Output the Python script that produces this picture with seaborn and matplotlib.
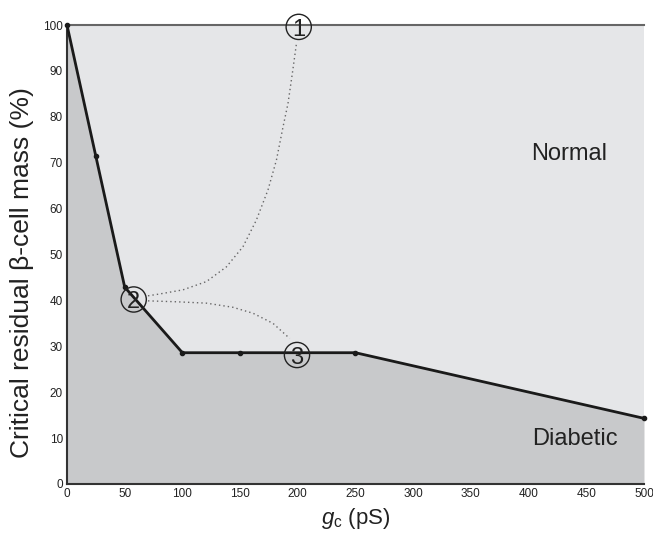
import matplotlib
matplotlib.use("Agg")
import matplotlib.pyplot as plt
import seaborn as sns
import numpy as np
import pandas as pd

# Data
gc_values = [0, 25, 50, 100, 150, 200, 250, 500]
critical_mass = [100, 71.4, 42.9, 28.6, 28.6, 28.6, 28.6, 14.3]
marker_gc = [0, 25, 50, 100, 150, 250, 500]
marker_mass = [100, 71.4, 42.9, 28.6, 28.6, 28.6, 14.3]

path1_gc = [70.2, 80.3, 100.5, 120.8, 138.1, 152.5, 164.1, 174.2, 181.5, 187.2, 191.5, 195.3, 198.8]
path1_mass = [41.0, 41.4, 42.3, 44.1, 47.3, 51.7, 57.5, 64.1, 70.6, 77.8, 82.9, 89.5, 95.9]
path2_gc = [70.2, 94.8, 120.8, 143.8, 161.2, 178.5, 193.0]
path2_mass = [39.9, 39.7, 39.4, 38.5, 37.2, 35.0, 31.7]

state_labels = ["1", "2", "3"]
state_gc = [200.8, 57.8, 199.3]
state_mass = [99.6, 40.2, 28.1]

x_ticks = [0, 50, 100, 150, 200, 250, 300, 350, 400, 450, 500]
y_ticks = [0, 10, 20, 30, 40, 50, 60, 70, 80, 90, 100]

sns.set_style("white")
plt.rcParams['font.family'] = ['Liberation Sans', 'DejaVu Sans']
plt.rcParams['mathtext.fontset'] = 'custom'
plt.rcParams['mathtext.it'] = 'Liberation Sans:italic'
plt.rcParams['mathtext.rm'] = 'Liberation Sans'

fig = plt.figure(figsize=(6.53, 5.33), dpi=100)
ax = fig.add_axes([0.1026, 0.092, 0.8836, 0.861])

ax.set_facecolor("#e5e6e8")
ax.fill_between(gc_values, 0, critical_mass, color="#c8c9cb", lw=0, zorder=1)

df = pd.DataFrame({"gc": gc_values, "mass": critical_mass})
sns.lineplot(data=df, x="gc", y="mass", ax=ax, color="#1a1a1a", lw=2.0, zorder=3)
ax.plot(marker_gc, marker_mass, 'o', color="#1a1a1a", ms=3, zorder=4, clip_on=False)

ax.plot(path1_gc, path1_mass, ls=(0, (1, 2.2)), color="#666666", lw=1.0, zorder=2)
ax.plot(path2_gc, path2_mass, ls=(0, (1, 2.2)), color="#666666", lw=1.0, zorder=2)

ax.scatter(state_gc, state_mass, s=330, facecolors='none', edgecolors='#222222',
           linewidths=1.0, zorder=5, clip_on=False)
for lab, gx, my in zip(state_labels, state_gc, state_mass):
    ax.text(gx, my - 0.6, lab, ha='center', va='center', fontsize=17, color='#222222', zorder=6)

ax.set_xlim(0, 500)
ax.set_ylim(0, 100)

ax.text(435, 72, "Normal", ha='center', va='center', fontsize=17, color='#222222')
ax.text(440, 9.8, "Diabetic", ha='center', va='center', fontsize=17, color='#222222')

ax.set_xticks(x_ticks)
ax.set_yticks(y_ticks)
ax.tick_params(axis='both', length=0, labelsize=8.5, pad=3, colors='#222222')

for side in ['left', 'bottom', 'top']:
    ax.spines[side].set_visible(True)
    ax.spines[side].set_color('#333333')
    ax.spines[side].set_linewidth(1.5)
ax.spines['top'].set_color('#666666')
ax.spines['right'].set_visible(False)

ax.set_xlabel(r"$g_{\mathrm{c}}$ (pS)", fontsize=16, labelpad=4, color='#222222')
ax.set_ylabel(u"Critical residual \u03b2-cell mass (%)", fontsize=19, color='#222222')
ax.yaxis.set_label_coords(-0.058, 0.46)

fig.savefig("out.png", dpi=100, facecolor='white')
